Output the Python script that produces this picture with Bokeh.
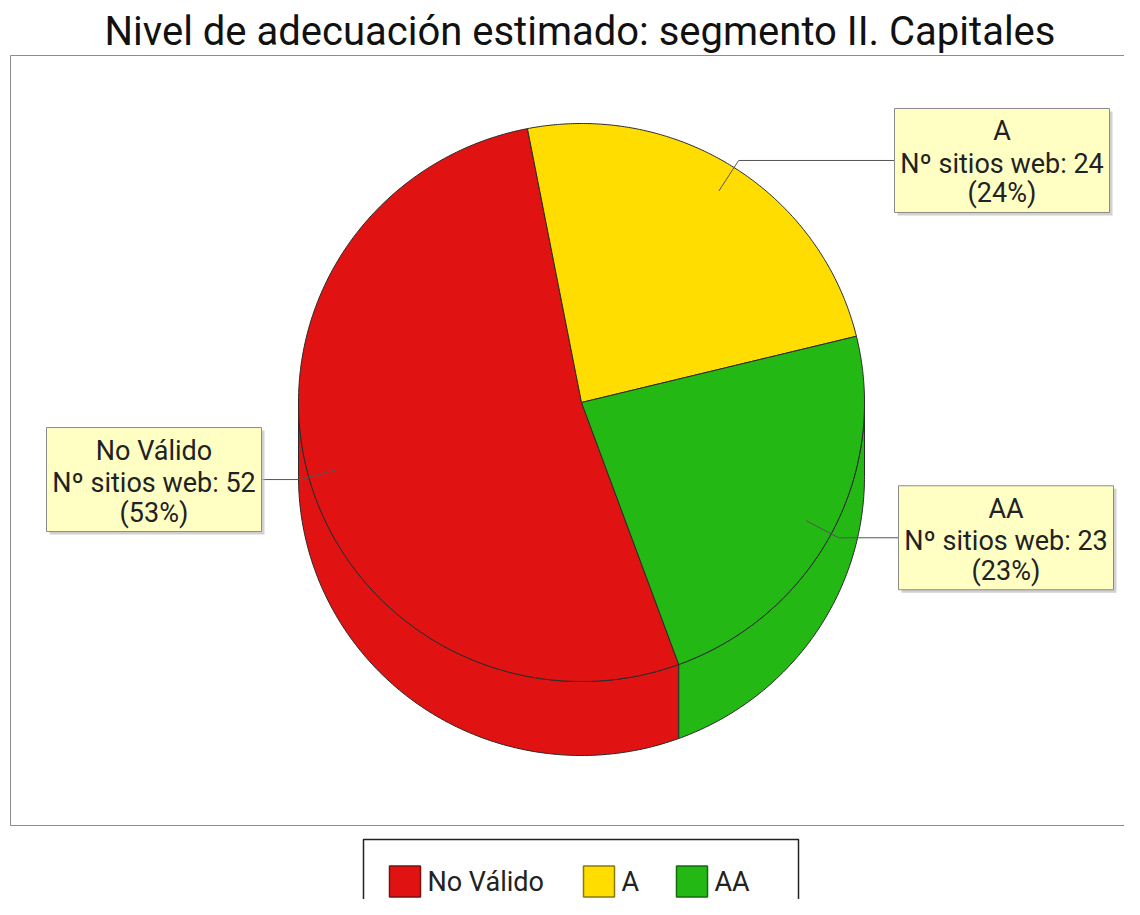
import numpy as np
from bokeh.plotting import figure
from bokeh.models import Range1d
from bokeh.embed import file_html
from bokeh.resources import INLINE
from bokeh.core.properties import value

# ---------------- data ----------------
title_text = "Nivel de adecuación estimado: segmento II. Capitales"
categories = ["No Válido", "A", "AA"]
counts = [52, 24, 23]
colors = ["#E11212", "#FFDD00", "#23B813"]
edge_colors = ["#7A1010", "#8C7A00", "#136B0B"]
count_prefix = "Nº sitios web: "

# ---------------- layout ----------------
W, H = 1124, 899
FONT = "Roboto"
cx, cy, rx, ry, depth = 581.0, 402.0, 283.0, 279.0, 74.0
start_angle = -69.9          # degrees, slices go clockwise
label_box_w, label_box_h = 215.0, 104.0
label_box_side = ["left", "right", "right"]   # side of the pie where each label sits
label_box_x = [46.0, 894.0, 898.0]              # left edge of each label box
label_line_offsets = [-29.0, 3.5, 33.0]
legend_left, legend_right, legend_top = 363.0, 798.0, 839.0
legend_sq_x = [389.0, 583.0, 676.0]
legend_sq = 31.0
legend_cy = 881.0

p = figure(width=W, height=H, x_range=Range1d(0, W), y_range=Range1d(H, 0),
           output_backend="svg", toolbar_location=None, min_border=0,
           x_axis_location=None, y_axis_location=None)
p.grid.visible = False
p.outline_line_color = None
p.background_fill_color = "white"
p.border_fill_color = "white"

# plot area border
p.quad(left=[10], right=[1300], top=[55], bottom=[825], fill_color=None,
       line_color="#8C8C8C", line_width=1)

# title
p.text(x=[579.5], y=[31], text=[title_text], text_font=value(FONT),
       text_font_size="40px", text_align="center", text_baseline="middle",
       text_color="#111111")

# ---------------- pie geometry ----------------
total = float(sum(counts))
spans = [360.0 * c / total for c in counts]
starts, ends = [], []
a = start_angle
for s in spans:
    starts.append(a)
    ends.append(a - s)
    a -= s

def ell(t_deg, k=1.0, dy=0.0):
    t = np.radians(t_deg)
    return cx + k * rx * np.cos(t), cy - k * ry * np.sin(t) + dy

# side faces (visible front half: math angles 180..360)
side_xs, side_ys, side_col = [], [], []
for i in range(len(counts)):
    hi0, lo0 = starts[i], ends[i]
    for kk in range(-3, 3):
        lo = max(lo0, 180 + 360 * kk)
        hi = min(hi0, 360 + 360 * kk)
        if hi > lo:
            t = np.linspace(hi, lo, 120)
            x_top, y_top = ell(t)
            x_bot, y_bot = ell(t[::-1], dy=depth)
            side_xs.append(list(np.concatenate([x_top, x_bot])))
            side_ys.append(list(np.concatenate([y_top, y_bot])))
            side_col.append(colors[i])
p.patches(xs=side_xs, ys=side_ys, fill_color=side_col, line_color="#2A2A2A",
          line_width=1)

# top faces
top_xs, top_ys = [], []
for i in range(len(counts)):
    t = np.linspace(starts[i], ends[i], 200)
    x, y = ell(t)
    top_xs.append([cx] + list(x))
    top_ys.append([cy] + list(y))
p.patches(xs=top_xs, ys=top_ys, fill_color=colors, line_color="#2A2A2A",
          line_width=1)

# ---------------- labels ----------------
for i, cat in enumerate(categories):
    mid = (starts[i] + ends[i]) / 2.0
    x1, y1 = ell(mid, 0.9)
    x2, y2 = ell(mid, 1.03)
    bl = label_box_x[i]
    br = bl + label_box_w
    x3 = br if label_box_side[i] == "left" else bl
    p.line(x=[x1, x2, x3], y=[y1, y2, y2], line_color="#555555", line_width=1)
    # shadow + box
    p.quad(left=[bl + 3], right=[br + 3], top=[y2 - label_box_h / 2 + 3],
           bottom=[y2 + label_box_h / 2 + 3], fill_color="#BDBDBD",
           fill_alpha=0.7, line_color=None)
    p.quad(left=[bl], right=[br], top=[y2 - label_box_h / 2],
           bottom=[y2 + label_box_h / 2], fill_color="#FFFFC4",
           line_color="#8A8A8A", line_width=1)
    pct = int(round(100.0 * counts[i] / total))
    lines = [cat, f"{count_prefix}{counts[i]}", f"({pct}%)"]
    p.text(x=[(bl + br) / 2] * 3, y=[y2 + o for o in label_line_offsets], text=lines,
           text_font=value(FONT), text_font_size="27px", text_align="center",
           text_baseline="middle", text_color="#222222")

# ---------------- legend ----------------
p.quad(left=[legend_left], right=[legend_right], top=[legend_top], bottom=[1000],
       fill_color="white", line_color="#222222", line_width=1.5)
p.rect(x=[x + legend_sq / 2 for x in legend_sq_x], y=[legend_cy] * 3,
       width=legend_sq, height=legend_sq, fill_color=colors,
       line_color=edge_colors, line_width=1.5)
p.text(x=[x + legend_sq + 7 for x in legend_sq_x], y=[legend_cy] * 3,
       text=categories, text_font=value(FONT), text_font_size="27px",
       text_align="left", text_baseline="middle", text_color="#222222")

open("out.html", "w").write(file_html(p, INLINE))
